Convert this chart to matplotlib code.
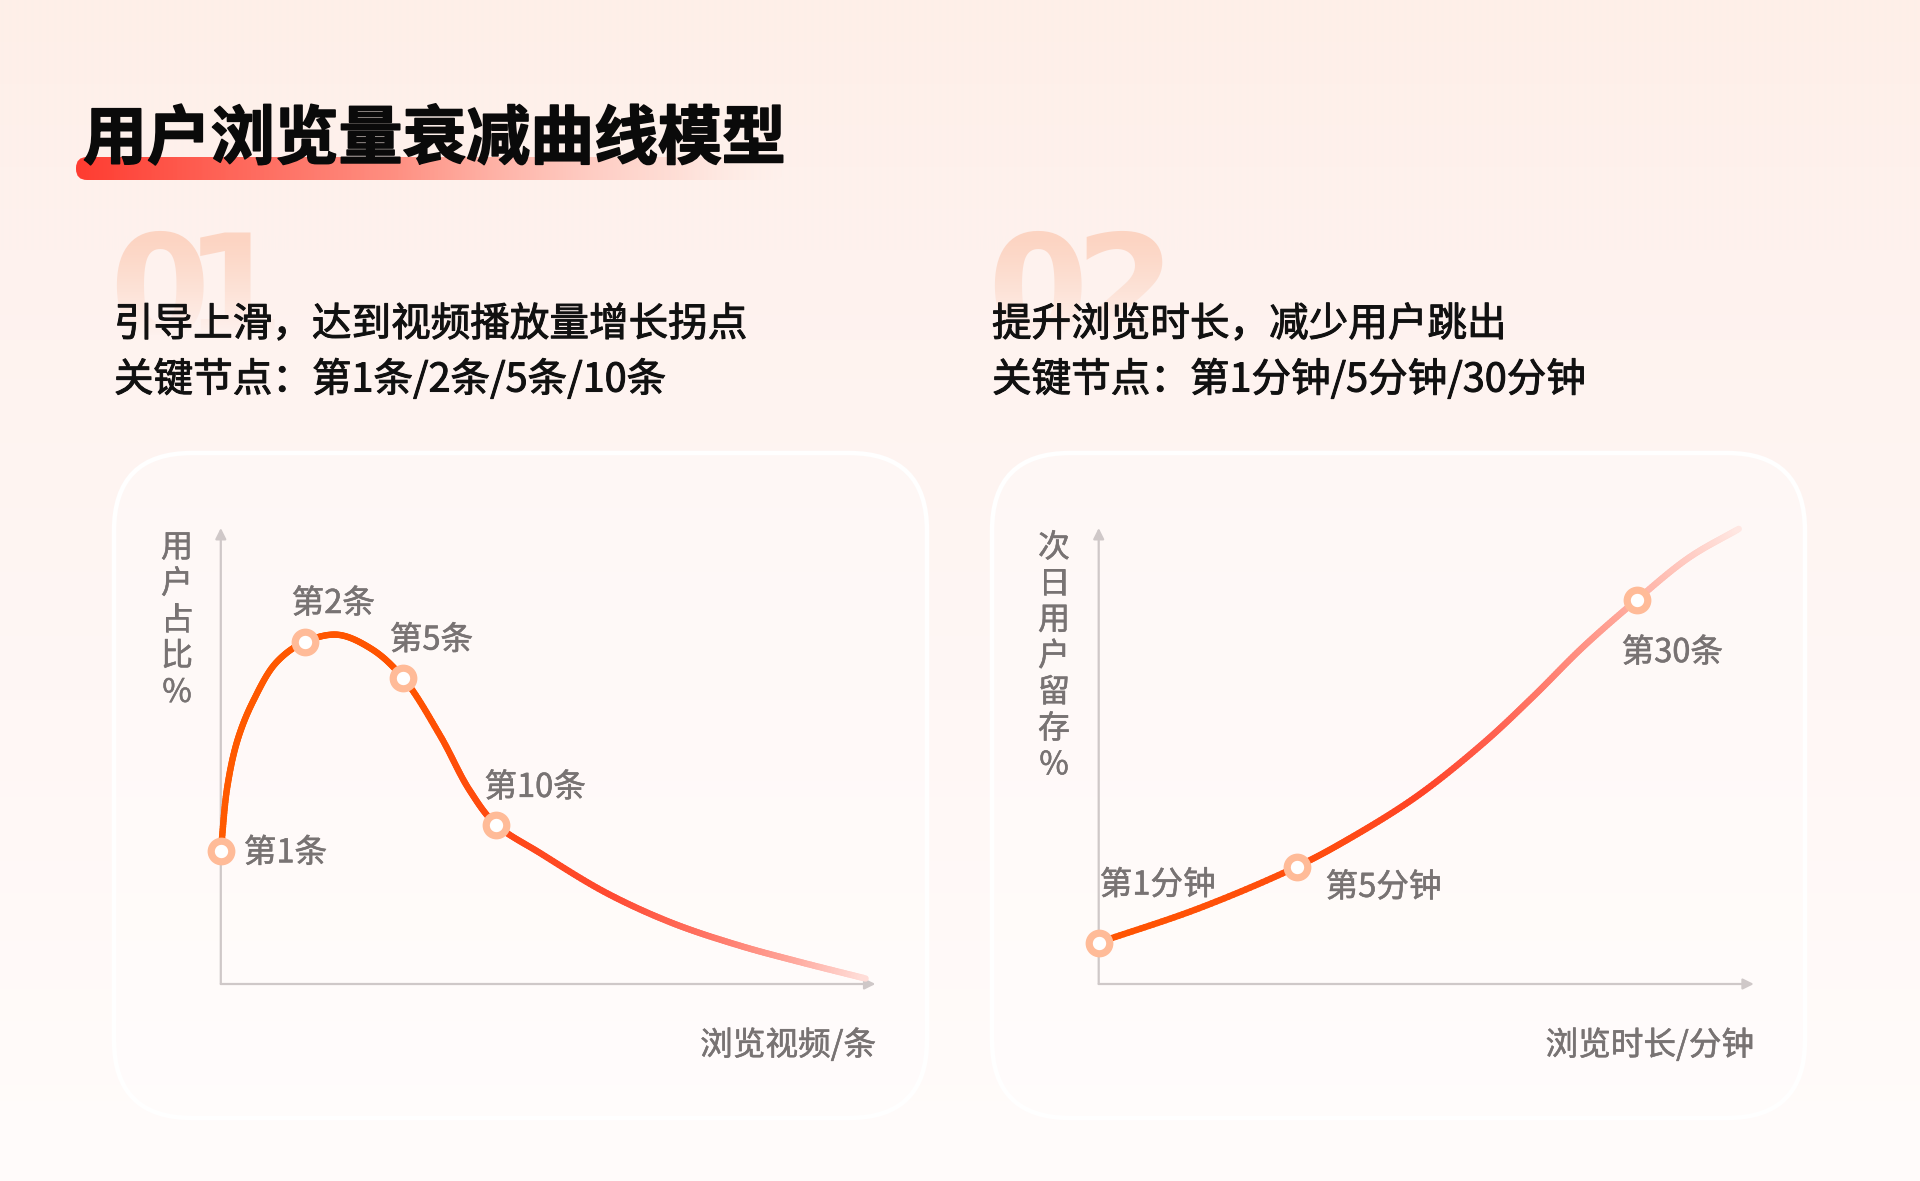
import numpy as np
import matplotlib
matplotlib.use('Agg')
import matplotlib.pyplot as plt
import matplotlib.patheffects as pe
from matplotlib.collections import LineCollection
from matplotlib.patches import FancyBboxPatch
from matplotlib.colors import to_rgb

plt.rcParams['font.family'] = ['Noto Sans CJK SC', 'DejaVu Sans']

W, H = 1920, 1181

# ---------------- data ----------------
title = '用户浏览量衰减曲线模型'
left_num = ['0', '1']
right_num = ['0', '2']
left_lines = ['引导上滑，达到视频播放量增长拐点', '关键节点：第1条/2条/5条/10条']
right_lines = ['提升浏览时长，减少用户跳出', '关键节点：第1分钟/5分钟/30分钟']
left_ylabel = '用户占比%'
right_ylabel = '次日用户留存%'
left_xlabel = '浏览视频/条'
right_xlabel = '浏览时长/分钟'

# curve points (axis scale 0-100)
left_curve_x = [0, 1.0, 2.6, 5.0, 8.6, 12.8, 17.8, 23.0, 27.8, 33.5, 38.0, 42.1,
                48.8, 59.0, 69.1, 79.3, 88.0, 98.5]
left_curve_y = [29.1, 43.3, 53.7, 62.2, 70.7, 75.0, 76.6, 73.5, 67.2, 54.5, 42.5, 34.9,
                28.7, 19.9, 13.3, 8.4, 5.0, 1.2]
left_keys = ['第1条', '第2条', '第5条', '第10条']
left_key_x = [0, 12.8, 27.8, 42.1]
left_key_y = [29.1, 75.0, 67.2, 34.9]

right_curve_x = [0, 15.3, 30.2, 38.4, 48.5, 58.7, 66.3, 74.0, 82.1, 90.2, 97.7]
right_curve_y = [9.1, 16.6, 25.7, 32.0, 41.1, 52.8, 63.0, 74.0, 84.2, 93.6, 99.8]
right_keys = ['第1分钟', '第5分钟', '第30条']
right_key_x = [0, 30.2, 82.1]
right_key_y = [9.1, 25.7, 84.2]

# ---------------- helpers ----------------
def catmull(xs, ys, n=24, alpha=0.5):
    P = np.column_stack([xs, ys]).astype(float)
    P = np.vstack([2 * P[0] - P[1], P, 2 * P[-1] - P[-2]])
    out = []
    for i in range(len(P) - 3):
        p0, p1, p2, p3 = P[i:i + 4]
        t0 = 0.0
        t1 = t0 + max(np.linalg.norm(p1 - p0), 1e-6) ** alpha
        t2 = t1 + max(np.linalg.norm(p2 - p1), 1e-6) ** alpha
        t3 = t2 + max(np.linalg.norm(p3 - p2), 1e-6) ** alpha
        t = np.linspace(t1, t2, n, endpoint=False)[:, None]
        A1 = (t1 - t) / (t1 - t0) * p0 + (t - t0) / (t1 - t0) * p1
        A2 = (t2 - t) / (t2 - t1) * p1 + (t - t1) / (t2 - t1) * p2
        A3 = (t3 - t) / (t3 - t2) * p2 + (t - t2) / (t3 - t2) * p3
        B1 = (t2 - t) / (t2 - t0) * A1 + (t - t0) / (t2 - t0) * A2
        B2 = (t3 - t) / (t3 - t1) * A2 + (t - t1) / (t3 - t1) * A3
        out.append((t2 - t) / (t2 - t1) * B1 + (t - t1) / (t2 - t1) * B2)
    out.append(P[-2:-1])
    return np.vstack(out)


def stop_colors(x, stops):
    xs = np.array([s[0] for s in stops], float)
    cs = np.array([to_rgb(s[1]) for s in stops])
    return np.column_stack([np.interp(x, xs, cs[:, k]) for k in range(3)])


def bg_color(y):
    ys = np.array([0, 250, 700, 1181], float)
    cs = np.array([to_rgb('#FEEFE8'), to_rgb('#FEF2EE'), to_rgb('#FFF7F5'), to_rgb('#FFFCFB')])
    return np.column_stack([np.interp(y, ys, cs[:, k]) for k in range(3)])

# ---------------- figure ----------------
fig = plt.figure(figsize=(W / 100, H / 100), dpi=100)
bg = fig.add_axes([0, 0, 1, 1])
bg.set_xlim(0, W)
bg.set_ylim(H, 0)
bg.axis('off')

yy = np.arange(H, dtype=float)
grad = bg_color(yy)[:, None, :].repeat(8, axis=1)
bg.imshow(grad, extent=[0, W, H, 0], aspect='auto', zorder=0, interpolation='bilinear')

# title bar
bx0, bx1, by0, by1 = 76, 784, 157, 180
xx = np.linspace(0, 1, 400)
rgb = np.column_stack([
    np.ones_like(xx),
    np.interp(xx, [0, 0.5, 1], [59, 140, 225]) / 255,
    np.interp(xx, [0, 0.5, 1], [48, 125, 215]) / 255,
])
al = np.interp(xx, [0, 0.45, 0.85, 1], [1, 0.9, 0.45, 0.0])
bar = np.dstack([rgb[None, :, 0], rgb[None, :, 1], rgb[None, :, 2], al[None, :]]).repeat(4, axis=0)
im = bg.imshow(bar, extent=[bx0, bx1, by1, by0], aspect='auto', zorder=2, interpolation='bilinear')
clip = FancyBboxPatch((bx0, by0), bx1 - bx0, by1 - by0, boxstyle='round,pad=0,rounding_size=11',
                      transform=bg.transData, fc='none', ec='none')
bg.add_patch(clip)
im.set_clip_path(clip)

bg.text(83, 140, title, fontsize=46, fontweight='heavy', color='#0A0A0A', va='center', ha='left', zorder=3,
        path_effects=[pe.withStroke(linewidth=1.2, foreground='#0A0A0A')])

# big faded numbers
num_base = 338
for chars, centers in ((left_num, [159, 234]), (right_num, [1037, 1125])):
    for ch, cx in zip(chars, centers):
        bg.text(cx, num_base, ch, fontsize=104, fontweight='bold', family='DejaVu Sans',
                color='#FCD4C2', ha='center', va='baseline', zorder=2)
fy = np.arange(225, 345, dtype=float)
fade_rgb = bg_color(fy)
fade_a = np.clip((fy - 235) / (335 - 235), 0, 1) ** 1.2
fade = np.dstack([fade_rgb[:, 0:1], fade_rgb[:, 1:2], fade_rgb[:, 2:3], fade_a[:, None]])
for x0, x1 in ((100, 290), (980, 1180)):
    bg.imshow(np.repeat(fade, 4, axis=1), extent=[x0, x1, 345, 225], aspect='auto', zorder=2.5,
              interpolation='bilinear')

# subtitles
for x0, lines in ((114, left_lines), (992, right_lines)):
    for i, s in enumerate(lines):
        bg.text(x0, 325 + 55 * i, s, fontsize=28.5, fontweight='medium', color='#111111',
                ha='left', va='center', zorder=4,
                path_effects=[pe.withStroke(linewidth=0.7, foreground='#111111')])

# cards
for x0 in (114, 992):
    card = FancyBboxPatch((x0, 453), 813, 665, boxstyle='round,pad=0,rounding_size=78',
                          fc=(1, 1, 1, 0.35), ec='white', lw=3.2, zorder=1)
    bg.add_patch(card)

label_color = '#787373'
label_pe = [pe.withStroke(linewidth=0.4, foreground=label_color)]
# y labels (stacked characters)
for cx, s in ((177, left_ylabel), (1054, right_ylabel)):
    for i, ch in enumerate(s):
        bg.text(cx, 548 + 36.2 * i, ch, fontsize=23, color=label_color, ha='center', va='center', zorder=4,
                path_effects=label_pe)
# x labels
bg.text(876, 1045, left_xlabel, fontsize=23.5, color=label_color, ha='right', va='center', zorder=4,
        path_effects=label_pe)
bg.text(1754, 1045, right_xlabel, fontsize=23.5, color=label_color, ha='right', va='center', zorder=4,
        path_effects=label_pe)

# ---------------- chart axes ----------------
def make_ax(xl, xr, yb=984, yt=528):
    return fig.add_axes([xl / W, (H - yb) / H, (xr - xl) / W, (yb - yt) / H])

axL = make_ax(220.8, 875.4)
axR = make_ax(1098.7, 1753.8)

left_stops = [(0, '#FF5A00'), (30, '#FF5200'), (45, '#FF4818'), (60, '#FF4A32'),
              (75, '#FF7565'), (88, '#FFA99E'), (100, '#FFE6E2')]
right_stops = [(0, '#FF5500'), (35, '#FF4C10'), (50, '#FF4428'), (62, '#FF6555'),
               (72, '#FF8A7C'), (82, '#FFAFA2'), (92, '#FFD2CA'), (100, '#FFF0EC')]

axis_col = '#CFC8C8'

def draw_chart(ax, cx, cy, stops, keys, kx, ky, offsets):
    ax.set_xlim(0, 100)
    ax.set_ylim(0, 100)
    ax.axis('off')
    ax.patch.set_alpha(0)
    ax.annotate('', xy=(100, 0), xytext=(0, 0),
                arrowprops=dict(arrowstyle='-|>', color=axis_col, lw=1.6, mutation_scale=16,
                                shrinkA=0, shrinkB=0), annotation_clip=False)
    ax.annotate('', xy=(0, 100), xytext=(0, 0),
                arrowprops=dict(arrowstyle='-|>', color=axis_col, lw=1.6, mutation_scale=16,
                                shrinkA=0, shrinkB=0), annotation_clip=False)
    pts = catmull(cx, cy)
    segs = np.stack([pts[:-1], pts[1:]], axis=1)
    mids = (pts[:-1, 0] + pts[1:, 0]) / 2
    lc = LineCollection(segs, colors=stop_colors(mids, stops), linewidths=4.6,
                        capstyle='round', joinstyle='round', zorder=3, clip_on=False)
    ax.add_collection(lc)
    ax.plot(kx, ky, 'o', ms=14.8, mfc='white', mec='#FFBB98', mew=5.2, zorder=4, clip_on=False)
    for k, x, y, (dx, dy) in zip(keys, kx, ky, offsets):
        ax.annotate(k, xy=(x, y), xytext=(dx, dy), textcoords='offset pixels',
                    fontsize=23.5, color=label_color, ha='left', va='center',
                    annotation_clip=False, zorder=5, path_effects=label_pe)

draw_chart(axL, left_curve_x, left_curve_y, left_stops, left_keys, left_key_x, left_key_y,
           [(23, -2), (-13, 38), (-13, 37), (-12, 37)])
draw_chart(axR, right_curve_x, right_curve_y, right_stops, right_keys, right_key_x, right_key_y,
           [(1, 57), (29, -21), (-15, -53)])

fig.savefig('out.png', dpi=100)
